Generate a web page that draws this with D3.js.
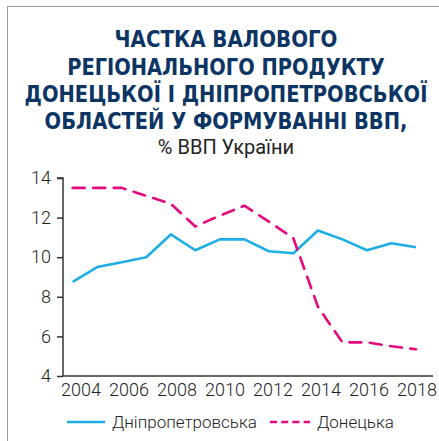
<!DOCTYPE html>
<html>
<head>
<meta charset="utf-8">
<script src="https://cdn.jsdelivr.net/npm/d3@7"></script>
<style>
  body { margin: 0; background: #fff; }
  svg { display: block; }
</style>
</head>
<body>
<div id="chart"></div>
<script>
// data
const years = [2004, 2005, 2006, 2007, 2008, 2009, 2010, 2011, 2012, 2013, 2014, 2015, 2016, 2017, 2018];
const dnipro = [8.75, 9.5, 9.75, 10.0, 11.15, 10.35, 10.9, 10.9, 10.3, 10.2, 11.35, 10.9, 10.35, 10.7, 10.5];
const donetsk = [13.5, 13.5, 13.5, 13.1, 12.7, 11.55, 12.1, 12.6, 11.8, 10.95, 7.5, 5.7, 5.7, 5.5, 5.35];
const xTicks = [2004, 2006, 2008, 2010, 2012, 2014, 2016, 2018];
const yTicks = [4, 6, 8, 10, 12, 14];
const titleLines = ["ЧАСТКА ВАЛОВОГО", "РЕГІОНАЛЬНОГО ПРОДУКТУ", "ДОНЕЦЬКОЇ І ДНІПРОПЕТРОВСЬКОЇ", "ОБЛАСТЕЙ У ФОРМУВАННІ ВВП,"];
const subtitle = "% ВВП України";
const seriesNames = ["Дніпропетровська", "Донецька"];

const W = 439, H = 441;
const blue = "#1eaee6", pink = "#e5097f", navy = "#0c3563";

const svg = d3.select("#chart").append("svg").attr("width", W).attr("height", H);

// frame
svg.append("path").attr("d", "M7.5," + H + "V6.5H" + W)
  .attr("fill", "none").attr("stroke", "#9a9a9a").attr("stroke-width", 1);

// title: condensed look - shrink font to the line's width, then stretch back vertically
const titleY = [47, 74.5, 101.5, 128.5];
const titleW = [223, 318, 403, 363];
const baseSize = 23;
svg.selectAll(".title").data(titleLines).enter().append("text")
  .attr("class", "title")
  .attr("text-anchor", "middle")
  .style("font-family", "'DejaVu Sans Condensed', 'Liberation Sans', sans-serif")
  .style("font-weight", "bold").style("font-size", baseSize + "px")
  .attr("fill", navy)
  .text(d => d)
  .each(function(d, i) {
    const k = titleW[i] / this.getComputedTextLength();
    d3.select(this).style("font-size", (baseSize * k) + "px")
      .attr("transform", "translate(226," + titleY[i] + ") scale(1," + (1 / k) + ")");
  });

svg.append("text").attr("x", 226).attr("y", 154).attr("text-anchor", "middle")
  .style("font-family", "Roboto, sans-serif").style("font-size", "20px")
  .attr("fill", "#222").text(subtitle);

// scales
const x = d3.scaleLinear().domain([2004, 2018]).range([72.7, 416]);
const xLab = d3.scaleLinear().domain([2004, 2018]).range([81, 417]);
const y = d3.scaleLinear().domain([4, 14]).range([376, 178]);

// y axis
const yAxis = svg.append("g").attr("transform", "translate(63,0)")
  .call(d3.axisLeft(y).tickValues(yTicks).tickSize(6).tickPadding(6).tickFormat(d3.format("d")));
yAxis.select(".domain").attr("stroke", "#333").attr("stroke-width", 1.5).attr("d", "M-6,178H0V376");
yAxis.selectAll(".tick line").attr("stroke", "#333").attr("stroke-width", 1.5);
yAxis.selectAll(".tick text").style("font-family", "Roboto, sans-serif").style("font-size", "18px")
  .style("font-weight", 300).attr("fill", "#222");

// x axis
svg.append("line").attr("x1", 63).attr("x2", 433).attr("y1", 376).attr("y2", 376)
  .attr("stroke", "#333").attr("stroke-width", 1.5);
svg.selectAll(".xlab").data(xTicks).enter().append("text")
  .attr("class", "xlab")
  .attr("x", d => xLab(d)).attr("y", 396)
  .attr("text-anchor", "middle")
  .style("font-family", "Roboto, sans-serif").style("font-size", "18px").style("font-weight", 300)
  .attr("fill", "#222").text(d => d);

// lines
const line = d3.line().x(d => x(d[0])).y(d => y(d[1]));
svg.append("path").datum(d3.zip(years, dnipro)).attr("d", line)
  .attr("fill", "none").attr("stroke", blue).attr("stroke-width", 2.6).attr("stroke-linejoin", "round");
svg.append("path").datum(d3.zip(years, donetsk)).attr("d", line)
  .attr("fill", "none").attr("stroke", pink).attr("stroke-width", 2.6)
  .attr("stroke-dasharray", "12,8.5").attr("stroke-linecap", "round");

// legend
const lg = svg.append("g").attr("transform", "translate(0,422)");
lg.append("line").attr("x1", 67).attr("x2", 105).attr("stroke", blue).attr("stroke-width", 2.6);
lg.append("text").attr("x", 112).attr("y", 6).text(seriesNames[0]);
lg.append("line").attr("x1", 270).attr("x2", 310).attr("stroke", pink).attr("stroke-width", 2.6)
  .attr("stroke-dasharray", "7,4.2");
lg.append("text").attr("x", 317).attr("y", 6).text(seriesNames[1]);
lg.selectAll("text").style("font-family", "Roboto, sans-serif").style("font-size", "17px")
  .style("font-weight", 300).attr("fill", "#222");
</script>
</body>
</html>
